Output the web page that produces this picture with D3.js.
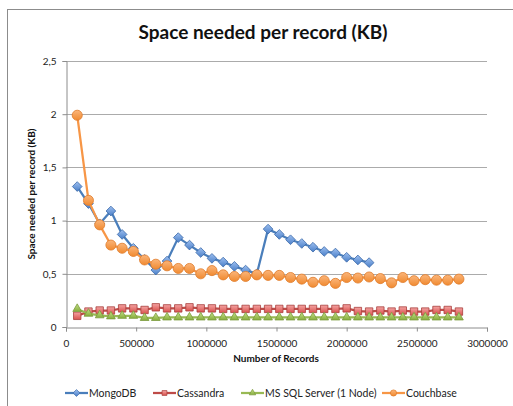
<!DOCTYPE html>
<html><head><meta charset="utf-8">
<script src="https://cdn.jsdelivr.net/npm/d3@7"></script>
<style>body{margin:0;background:#fff}svg{display:block}text{font-family:Lato,"Liberation Sans",sans-serif}</style>
</head><body><svg id="c" width="513" height="406"></svg>
<script>
const records = [80000,160000,240000,320000,400000,480000,560000,640000,720000,800000,880000,960000,1040000,1120000,1200000,1280000,1360000,1440000,1520000,1600000,1680000,1760000,1840000,1920000,2000000,2080000,2160000,2240000,2320000,2400000,2480000,2560000,2640000,2720000,2800000];
const mongo = [1.32,1.16,0.97,1.09,0.87,0.74,0.635,0.535,0.62,0.84,0.77,0.70,0.645,0.61,0.57,0.535,0.50,0.92,0.87,0.82,0.785,0.75,0.71,0.695,0.655,0.63,0.605];
const cassandra = [0.105,0.145,0.155,0.155,0.175,0.175,0.16,0.185,0.175,0.175,0.185,0.175,0.175,0.17,0.17,0.17,0.17,0.17,0.17,0.17,0.17,0.17,0.17,0.17,0.175,0.15,0.145,0.155,0.145,0.155,0.145,0.145,0.16,0.16,0.145];
const mssql = [0.17,0.125,0.11,0.10,0.105,0.105,0.085,0.085,0.09,0.09,0.09,0.09,0.09,0.09,0.09,0.09,0.09,0.09,0.09,0.09,0.09,0.09,0.09,0.09,0.09,0.09,0.09,0.09,0.09,0.09,0.09,0.09,0.09,0.09,0.09];
const couchbase = [1.99,1.19,0.96,0.77,0.74,0.71,0.63,0.59,0.575,0.55,0.55,0.50,0.53,0.49,0.475,0.475,0.49,0.485,0.485,0.465,0.45,0.42,0.435,0.41,0.465,0.46,0.47,0.455,0.415,0.465,0.435,0.445,0.44,0.44,0.45];
const seriesNames = ["MongoDB","Cassandra","MS SQL Server (1 Node)","Couchbase"];
const xTicks = [0,500000,1000000,1500000,2000000,2500000,3000000];
const yTicks = [0,0.5,1,1.5,2,2.5];
const yTickLabels = ["0","0,5","1","1,5","2","2,5"];

const svg = d3.select("#c");
const L=66,R=487,T=61,B=327;
const x = d3.scaleLinear().domain([0,3000000]).range([L,R]);
const y = d3.scaleLinear().domain([0,2.5]).range([B,T]);

// outer border
svg.append("rect").attr("x",7.5).attr("y",9.5).attr("width",520).attr("height",420)
  .attr("fill","#fff").attr("stroke","#8c8c8c").attr("stroke-width",1);

const defs = svg.append("defs");
function grad(id,c1,c2){const g=defs.append("linearGradient").attr("id",id).attr("x1",0).attr("y1",0).attr("x2",0).attr("y2",1);
 g.append("stop").attr("offset","0%").attr("stop-color",c1);g.append("stop").attr("offset","100%").attr("stop-color",c2);}
grad("gB","#9dbff0","#4a7fc8");
grad("gR","#f4a3a2","#d9534f");
grad("gG","#c5e08a","#86ad3c");
grad("gO","#fbb57a","#f08a30");

// gridlines
svg.append("g").selectAll("line").data(yTicks.slice(1)).join("line")
  .attr("x1",L).attr("x2",R).attr("y1",d=>Math.round(y(d))+0.5).attr("y2",d=>Math.round(y(d))+0.5)
  .attr("stroke","#ababab").attr("stroke-width",1);

// axes
const xa = svg.append("g").attr("transform",`translate(0,${B+0.5})`)
  .call(d3.axisBottom(x).tickValues(xTicks).tickSize(4).tickFormat(d3.format("d")));
const ya = svg.append("g").attr("transform",`translate(${L+0.5},0)`)
  .call(d3.axisLeft(y).tickValues(yTicks).tickSize(4).tickFormat((d,i)=>yTickLabels[i]));
[xa,ya].forEach(a=>{a.select(".domain").attr("stroke","#8c8c8c");a.selectAll(".tick line").attr("stroke","#8c8c8c");
  a.selectAll("text").attr("fill","#222").style("font-size","10px").style("font-family","Lato,'Liberation Sans',sans-serif");});
xa.selectAll("text").attr("dy","1.2em");
ya.selectAll("text").attr("x",-10);

// titles
svg.append("text").attr("x",263).attr("y",39).attr("text-anchor","middle")
  .style("font-size","19px").style("font-weight","bold").attr("fill","#111").text("Space needed per record (KB)");
svg.append("text").attr("x",276).attr("y",362).attr("text-anchor","middle")
  .style("font-size","10px").style("font-weight","bold").attr("fill","#111").text("Number of Records");
svg.append("text").attr("transform","translate(35,194) rotate(-90)").attr("text-anchor","middle")
  .style("font-size","10px").style("font-weight","bold").attr("fill","#111").text("Space needed per record (KB)");

// series
const series = [
 {name:seriesNames[0],vals:mongo,line:"#4a7ebb",fill:"url(#gB)",stroke:"#3a68a8",shape:"diamond"},
 {name:seriesNames[1],vals:cassandra,line:"#be4b48",fill:"url(#gR)",stroke:"#a83f3c",shape:"square"},
 {name:seriesNames[2],vals:mssql,line:"#98b954",fill:"url(#gG)",stroke:"#7b9a3c",shape:"triangle"},
 {name:seriesNames[3],vals:couchbase,line:"#f79646",fill:"url(#gO)",stroke:"#e07b2a",shape:"circle"}
];
const sym = {
 diamond: d3.symbol().type(d3.symbolDiamond2).size(60)(),
 square: d3.symbol().type(d3.symbolSquare2).size(70)(),
 triangle: d3.symbol().type(d3.symbolTriangle2).size(55)(),
 circle: d3.symbol().type(d3.symbolCircle).size(80)()
};
const lineGen = d3.line().x(d=>x(d[0])).y(d=>y(d[1]));
series.forEach(s=>{
  const pts = s.vals.map((v,i)=>[records[i],v]);
  const g = svg.append("g");
  g.append("path").attr("d",lineGen(pts)).attr("fill","none").attr("stroke",s.line).attr("stroke-width",2.25).attr("stroke-linejoin","round");
  g.selectAll("path.m").data(pts).join("path").attr("class","m")
   .attr("transform",d=>`translate(${x(d[0])},${y(d[1])})`).attr("d",sym[s.shape])
   .attr("fill",s.fill).attr("stroke",s.stroke).attr("stroke-width",0.8);
});

// legend
const legX = [65,153,241,382];
const lg = svg.append("g");
series.forEach((s,i)=>{
  const gx = legX[i], gy = 393;
  lg.append("line").attr("x1",gx).attr("x2",gx+23).attr("y1",gy).attr("y2",gy).attr("stroke",s.line).attr("stroke-width",2.25);
  lg.append("path").attr("transform",`translate(${gx+11.5},${gy})`)
    .attr("d",d3.symbol().type({diamond:d3.symbolDiamond2,square:d3.symbolSquare2,triangle:d3.symbolTriangle2,circle:d3.symbolCircle}[s.shape]).size(30)())
    .attr("fill",s.fill).attr("stroke",s.stroke).attr("stroke-width",0.7);
  lg.append("text").attr("x",gx+24).attr("y",gy+3.5).style("font-size","10.5px").attr("fill","#222").text(s.name);
});
</script></body></html>
